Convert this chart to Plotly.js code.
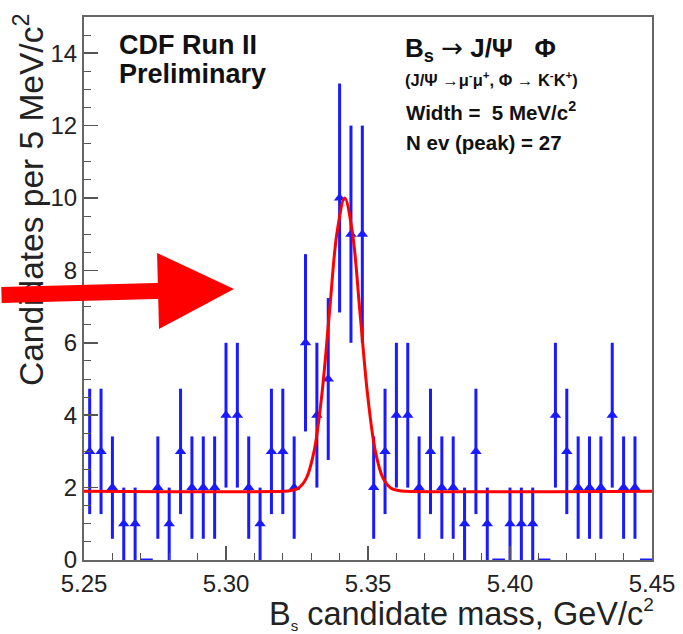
<!DOCTYPE html>
<html>
<head>
<meta charset="utf-8">
<script src="https://cdn.plot.ly/plotly-3.0.1.min.js"></script>
<style>html,body{margin:0;padding:0;background:#fff;}#chart{width:683px;height:634px;}</style>
</head>
<body>
<div id="chart"></div>
<script>
// Histogram: 50 bins of 4 MeV between 5.25 and 5.45 GeV/c^2
var binStart = 5.25;
var binWidth = 0.004;
var counts = [3,3,2,1,1,0,2,1,3,2,
              2,2,4,4,2,1,3,3,2,6,
              4,5,10,9,9,2,3,4,4,2,
              3,2,2,1,3,1,0,1,1,1,
              0,4,3,2,2,2,4,2,2,0];
// Fit curve
var fitX = [5.25, 5.3202, 5.3229, 5.3256, 5.3283, 5.3310, 5.3337, 5.3364, 5.3391, 5.3418,
            5.3445, 5.3472, 5.3499, 5.3526, 5.3553, 5.3580, 5.3607, 5.3634, 5.45];
var fitY = [1.90, 1.90, 1.92, 1.99, 2.26, 3.00, 4.53, 6.81, 9.05, 10.0,
            9.05, 6.81, 4.53, 3.00, 2.26, 1.99, 1.92, 1.90, 1.90];
var xTickVals = [5.25, 5.30, 5.35, 5.40, 5.45];
var xTickText = ["5.25", "5.30", "5.35", "5.40", "5.45"];
var yTickVals = [0, 2, 4, 6, 8, 10, 12, 14];

var centers = counts.map(function(c, i){ return +(binStart + binWidth*(i+0.5)).toFixed(4); });
var nzX = [], nzY = [], nzE = [], zX = [], zY = [];
counts.forEach(function(c, i){
  if (c > 0) { nzX.push(centers[i]); nzY.push(c); nzE.push(Math.sqrt(c)); }
  else { zX.push(centers[i]); zY.push(c); }
});

var blue = '#1a1aff';
var FONT = '"Liberation Sans", Arial, Helvetica, sans-serif';

var traces = [
  {x: nzX, y: nzY, type: 'scatter', mode: 'markers',
   marker: {symbol: 'triangle-up', size: 10, color: blue},
   error_y: {type: 'data', array: nzE, visible: true, color: blue, thickness: 3, width: 0},
   hoverinfo: 'x+y', showlegend: false},
  {x: zX, y: zY, type: 'scatter', mode: 'markers', cliponaxis: false,
   marker: {symbol: 'line-ew', size: 9, color: blue, line: {color: blue, width: 3}},
   showlegend: false},
  {x: fitX, y: fitY, type: 'scatter', mode: 'lines',
   line: {color: '#ff0000', width: 3, shape: 'spline'}, showlegend: false}
];

function px2x(p){ return (p - 84) / 568; }
function py2y(p){ return (560 - p) / 543; }

var layout = {
  width: 683, height: 634,
  margin: {l: 84, r: 31, t: 17, b: 74, pad: 0},
  paper_bgcolor: '#ffffff', plot_bgcolor: '#ffffff',
  font: {family: FONT, color: '#222'},
  showlegend: false,
  xaxis: {
    range: [5.25, 5.45], tickvals: xTickVals, ticktext: xTickText,
    ticks: 'inside', ticklen: 14, tickwidth: 1.5, tickcolor: '#555',
    minor: {dtick: 0.01, tick0: 5.25, ticks: 'inside', ticklen: 7, tickwidth: 1, tickcolor: '#555'},
    showline: true, linecolor: '#666', linewidth: 2, mirror: true,
    showgrid: false, zeroline: false, ticklabelstandoff: 1,
    tickfont: {size: 24, family: FONT, color: '#222'}
  },
  yaxis: {
    range: [0, 15], tickvals: yTickVals,
    ticks: 'inside', ticklen: 14, tickwidth: 1.5, tickcolor: '#555',
    minor: {dtick: 0.5, tick0: 0, ticks: 'inside', ticklen: 7, tickwidth: 1, tickcolor: '#555'},
    showline: true, linecolor: '#666', linewidth: 2, mirror: true,
    showgrid: false, zeroline: false,
    tickfont: {size: 24, family: FONT, color: '#222'}
  },
  annotations: [
    {xref: 'paper', yref: 'paper', x: px2x(29), y: py2y(12), xanchor: 'center', yanchor: 'top',
     textangle: -90, showarrow: false,
     text: 'Candidates per 5 MeV/c<sup>2</sup>', font: {size: 33.5, family: FONT, color: '#222'}},
    {xref: 'paper', yref: 'paper', x: px2x(656), y: py2y(614), xanchor: 'right', yanchor: 'middle',
     showarrow: false,
     text: 'B<sub><span style="font-size:15px">s</span></sub> candidate mass, GeV/c<sup><span style="font-size:19px">2</span></sup>', font: {size: 32.5, family: FONT, color: '#222'}},
    {xref: 'paper', yref: 'paper', x: px2x(117), y: py2y(45), xanchor: 'left', yanchor: 'middle',
     showarrow: false, text: '<b>CDF Run II</b>', font: {size: 27, family: FONT, color: '#111'}},
    {xref: 'paper', yref: 'paper', x: px2x(117), y: py2y(74), xanchor: 'left', yanchor: 'middle',
     showarrow: false, text: '<b>Preliminary</b>', font: {size: 27, family: FONT, color: '#111'}},
    {xref: 'paper', yref: 'paper', x: px2x(403), y: py2y(50), xanchor: 'left', yanchor: 'middle',
     showarrow: false, text: '<b>B<sub>s</sub></b> <span style="font-family:DejaVu Sans">\u2192</span> <b>J/\u03A8 \u00A0 \u03A6</b>', font: {size: 26, family: FONT, color: '#111'}},
    {xref: 'paper', yref: 'paper', x: px2x(403), y: py2y(79), xanchor: 'left', yanchor: 'middle',
     showarrow: false, text: '<b>(J/\u03A8 \u2192\u03BC<sup>-</sup>\u03BC<sup>+</sup>, \u03A6 \u2192 K<sup>-</sup>K<sup>+</sup>)</b>', font: {size: 16.5, family: FONT, color: '#111'}},
    {xref: 'paper', yref: 'paper', x: px2x(404), y: py2y(111), xanchor: 'left', yanchor: 'middle',
     showarrow: false, text: '<b>Width =  5 MeV/c<sup>2</sup></b>', font: {size: 20.5, family: FONT, color: '#111'}},
    {xref: 'paper', yref: 'paper', x: px2x(404), y: py2y(142), xanchor: 'left', yanchor: 'middle',
     showarrow: false, text: '<b>N ev (peak) = 27</b>', font: {size: 20.5, family: FONT, color: '#111'}},
    // big red arrow overlay (drawn last so it covers the axis title)
    {xref: 'paper', yref: 'paper', x: px2x(234), y: py2y(289), axref: 'pixel', ayref: 'pixel',
     ax: -246, ay: 6, text: ' ', font: {size: 1}, showarrow: true,
     arrowhead: 2, arrowsize: 0.95, arrowwidth: 16, arrowcolor: '#ff0000', standoff: 0, startstandoff: 0}
  ]
};

Plotly.newPlot('chart', traces, layout, {displayModeBar: false, staticPlot: true});
</script>
</body>
</html>
